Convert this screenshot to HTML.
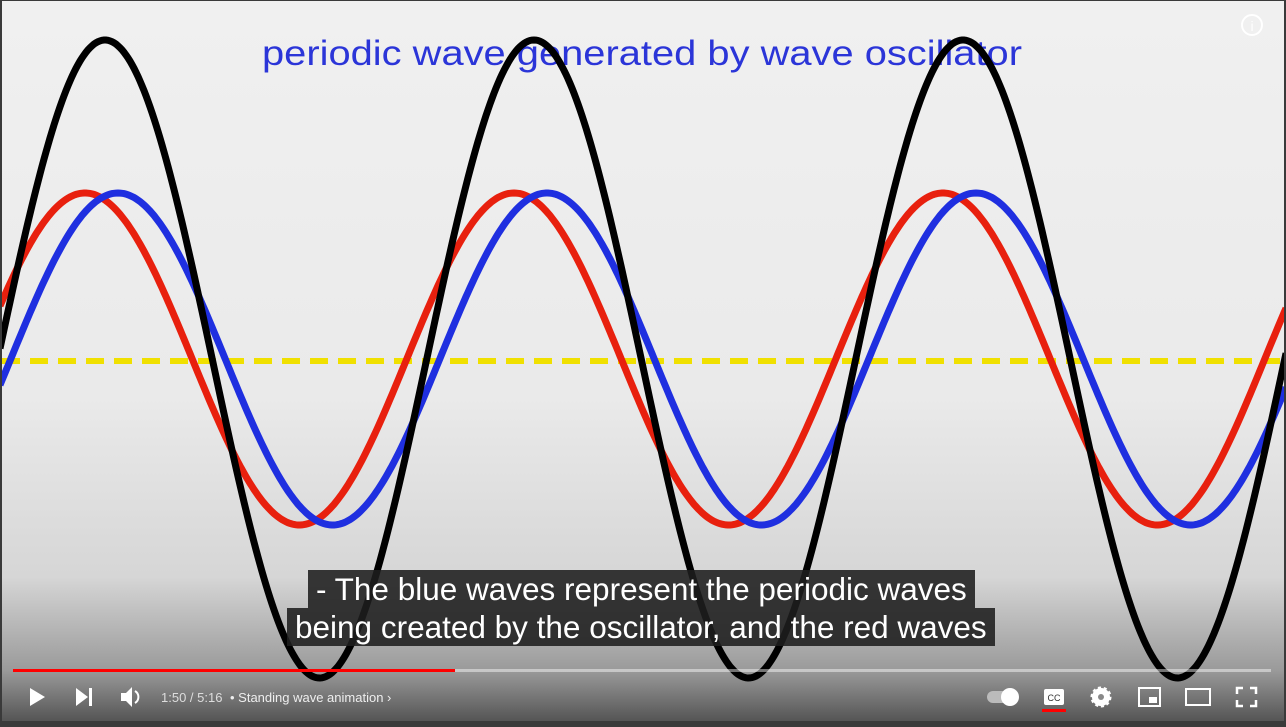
<!DOCTYPE html>
<html><head><meta charset="utf-8">
<style>
html,body{margin:0;padding:0;width:1286px;height:727px;overflow:hidden;background:#3a3a3a;font-family:"Liberation Sans",sans-serif}
#frame{position:absolute;left:2px;top:1px;width:1282px;height:720px;background:linear-gradient(#f0f0f0,#eaeaea 55%,#d6d6d6 80%,#9a9a9a 93%,#555 100%);overflow:hidden}
.sub{position:absolute;background:rgba(30,30,30,0.88);color:#fff;font-size:31.5px;line-height:38px;padding:0 8px;white-space:nowrap}
</style></head><body>
<div id="frame">
<svg id="chart" width="1282" height="720" style="position:absolute;left:0;top:0"></svg>
<div class="sub" style="left:306px;top:569px">- The blue waves represent the periodic waves</div>
<div class="sub" style="left:285px;top:607px">being created by the oscillator, and the red waves</div>
</div>
<script>
const seriesNames=['red','blue','black'];
const seriesPeakX=[85,118,105];
const seriesAmp=[166,166,319];
const period=429;
const centerY=359;
const colors={red:'#e8200e',blue:'#1f2fe0',black:'#000'};
const NS='http://www.w3.org/2000/svg';
const svg=document.getElementById('chart');
function xS(x){return x-2;}
function yS(v){return centerY-1-v;}
function mk(t,a){const e=document.createElementNS(NS,t);for(const k in a)e.setAttribute(k,a[k]);svg.appendChild(e);return e;}
const title=mk('text',{x:xS(262),y:64,fill:'#2b35d8','font-size':'35','font-family':'Liberation Sans, sans-serif',textLength:760,lengthAdjust:'spacingAndGlyphs'});
title.textContent='periodic wave generated by wave oscillator';


const mid=mk('line',{x1:0,x2:1282,y1:yS(-2),y2:yS(-2),stroke:'#f0e000','stroke-width':6,'stroke-dasharray':'18 10'});


seriesNames.forEach((n,i)=>{
  let d='';
  for(let x=0;x<=1286;x+=2){
    const v=seriesAmp[i]*Math.cos(2*Math.PI*(x-seriesPeakX[i])/period);
    d+=(x?'L':'M')+xS(x)+','+yS(v).toFixed(1);
  }
  const p=mk('path',{d:d,fill:'none',stroke:colors[n],'stroke-width':7});
  
  
});
</script>
<svg width="1286" height="727" style="position:absolute;left:0;top:0">
<circle cx="1252" cy="25" r="10" fill="none" stroke="#fff" stroke-width="2"/>
<text x="1252" y="31" fill="#fff" font-size="14" text-anchor="middle" font-family="Liberation Sans">i</text>
<rect x="13" y="669" width="1258" height="3" fill="rgba(255,255,255,0.45)"/>
<rect x="13" y="669" width="442" height="3" fill="#f00"/>
<polygon points="30,688 30,706 45,697" fill="#fff"/>
<g><polygon points="76,688 76,706 88,697" fill="#fff"/><rect x="89" y="688" width="3" height="18" fill="#fff"/></g>
<g><polygon points="121,693 126,693 132,687 132,707 126,701 121,701" fill="#fff"/><path d="M135,691 a7,7 0 0 1 0,12" stroke="#fff" stroke-width="2" fill="none"/></g>
<text x="161" y="702" fill="#ddd" font-size="13" font-family="Liberation Sans">1:50 / 5:16</text>
<text x="230" y="702" fill="#eee" font-size="13" font-family="Liberation Sans">• Standing wave animation ›</text>
<g><rect x="987" y="691" width="30" height="12" rx="6" fill="#bbb"/><circle cx="1010" cy="697" r="9" fill="#fff"/></g>
<g><rect x="1044" y="689" width="20" height="16" rx="2" fill="#fff"/><text x="1054" y="701" font-size="9" text-anchor="middle" fill="#333" font-family="Liberation Sans">CC</text><rect x="1042" y="709" width="24" height="3" fill="#f00"/></g>
<g><circle cx="1101" cy="697" r="9" fill="#fff" stroke="#fff" stroke-width="3" stroke-dasharray="3 2.6"/><circle cx="1101" cy="697" r="3" fill="#888"/></g>
<g><rect x="1139" y="688" width="21" height="18" fill="none" stroke="#fff" stroke-width="2"/><rect x="1149" y="697" width="8" height="6" fill="#fff"/></g>
<rect x="1186" y="689" width="24" height="16" fill="none" stroke="#fff" stroke-width="2"/>
<path d="M1237,694v-6h6M1250,688h6v6M1256,700v6h-6M1243,706h-6v-6" stroke="#fff" stroke-width="2.5" fill="none"/>
</svg>
</body></html>
